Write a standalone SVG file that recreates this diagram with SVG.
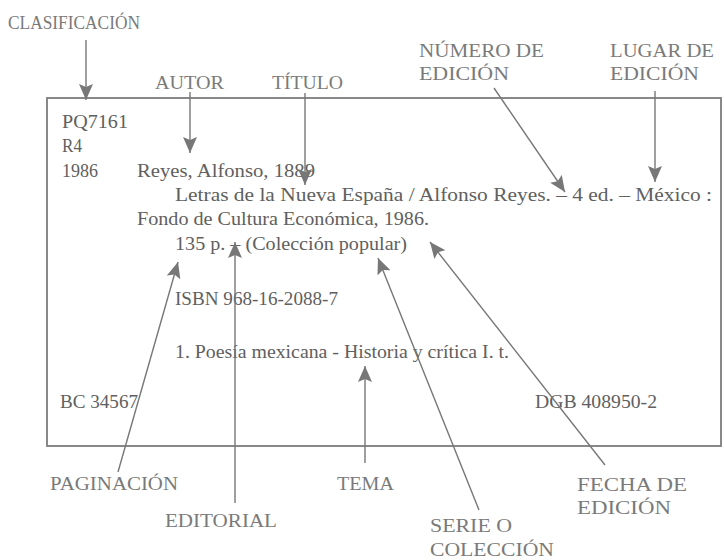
<svg xmlns="http://www.w3.org/2000/svg" width="724" height="560" viewBox="0 0 724 560">
<defs>
<style>
.card{fill:#606060;font-family:"Liberation Serif",serif;font-size:19.5px}
.lbl{fill:#7a7a7a;font-family:"Liberation Serif",serif;font-size:19.5px}
.ln{stroke:#777;stroke-width:1.4;fill:none}
</style>
<marker id="ah" viewBox="0 0 16 14" markerWidth="16" markerHeight="14" refX="16" refY="7" orient="auto" markerUnits="userSpaceOnUse">
<path d="M0,0 L16,7 L0,14 L3,7 z" fill="#777"/>
</marker>
</defs>
<rect width="724" height="560" fill="#fff"/>
<g id="card">
<rect x="47" y="98" width="674" height="348" fill="none" stroke="#888" stroke-width="2"/>
<text class="card" x="62" y="128" textLength="66" lengthAdjust="spacingAndGlyphs">PQ7161</text>
<text class="card" x="62" y="152" textLength="20" lengthAdjust="spacingAndGlyphs">R4</text>
<text class="card" x="62" y="177" textLength="36" lengthAdjust="spacingAndGlyphs">1986</text>
<text class="card" x="137" y="177" textLength="178" lengthAdjust="spacingAndGlyphs">Reyes, Alfonso, 1889</text>
<text class="card" x="175" y="201" textLength="537" lengthAdjust="spacingAndGlyphs">Letras de la Nueva España / Alfonso Reyes. – 4 ed. – México :</text>
<text class="card" x="137" y="225" textLength="292" lengthAdjust="spacingAndGlyphs">Fondo de Cultura Económica, 1986.</text>
<text class="card" x="175" y="250" textLength="232" lengthAdjust="spacingAndGlyphs">135 p. – (Colección popular)</text>
<text class="card" x="175" y="305" textLength="163" lengthAdjust="spacingAndGlyphs">ISBN 968-16-2088-7</text>
<text class="card" x="175" y="358" textLength="334" lengthAdjust="spacingAndGlyphs">1. Poesía mexicana - Historia y crítica I. t.</text>
<text class="card" x="60" y="408" textLength="78" lengthAdjust="spacingAndGlyphs">BC 34567</text>
<text class="card" x="535" y="408" textLength="122" lengthAdjust="spacingAndGlyphs">DGB 408950-2</text>
</g>
<g id="labels">
<text id="clasificacion" class="lbl" x="8" y="29" textLength="132" lengthAdjust="spacingAndGlyphs">CLASIFICACIÓN</text>
<text id="autor" class="lbl" x="155" y="89" textLength="69" lengthAdjust="spacingAndGlyphs">AUTOR</text>
<text id="titulo" class="lbl" x="272" y="89" textLength="71" lengthAdjust="spacingAndGlyphs">TÍTULO</text>
<g id="numero"><text class="lbl" x="419" y="57" textLength="125" lengthAdjust="spacingAndGlyphs">NÚMERO DE</text>
<text class="lbl" x="419" y="80" textLength="90" lengthAdjust="spacingAndGlyphs">EDICIÓN</text></g>
<g id="lugar"><text class="lbl" x="610" y="57" textLength="104" lengthAdjust="spacingAndGlyphs">LUGAR DE</text>
<text class="lbl" x="610" y="80" textLength="89" lengthAdjust="spacingAndGlyphs">EDICIÓN</text></g>
<text id="paginacion" class="lbl" x="50" y="490" textLength="128" lengthAdjust="spacingAndGlyphs">PAGINACIÓN</text>
<text id="editorial" class="lbl" x="165" y="527" textLength="112" lengthAdjust="spacingAndGlyphs">EDITORIAL</text>
<text id="tema" class="lbl" x="337" y="490" textLength="57" lengthAdjust="spacingAndGlyphs">TEMA</text>
<g id="serie"><text class="lbl" x="430" y="532" textLength="82" lengthAdjust="spacingAndGlyphs">SERIE O</text>
<text class="lbl" x="430" y="556" textLength="124" lengthAdjust="spacingAndGlyphs">COLECCIÓN</text></g>
<g id="fecha"><text class="lbl" x="577" y="491" textLength="110" lengthAdjust="spacingAndGlyphs">FECHA DE</text>
<text class="lbl" x="577" y="514" textLength="94" lengthAdjust="spacingAndGlyphs">EDICIÓN</text></g>
</g>
<g id="connectors">
<line class="ln" x1="86" y1="40" x2="86" y2="100" marker-end="url(#ah)"/>
<line class="ln" x1="190" y1="92" x2="190" y2="153" marker-end="url(#ah)"/>
<line class="ln" x1="305" y1="93" x2="305" y2="185" marker-end="url(#ah)"/>
<line class="ln" x1="494" y1="88" x2="565" y2="192" marker-end="url(#ah)"/>
<line class="ln" x1="655" y1="91" x2="655" y2="182" marker-end="url(#ah)"/>
<line class="ln" x1="118" y1="472" x2="178" y2="262" marker-end="url(#ah)"/>
<line class="ln" x1="235" y1="503" x2="235" y2="242" marker-end="url(#ah)"/>
<line class="ln" x1="365" y1="463" x2="365" y2="366" marker-end="url(#ah)"/>
<line class="ln" x1="479" y1="510" x2="378" y2="258" marker-end="url(#ah)"/>
<line class="ln" x1="605" y1="465" x2="430" y2="242" marker-end="url(#ah)"/>
</g>
</svg>
